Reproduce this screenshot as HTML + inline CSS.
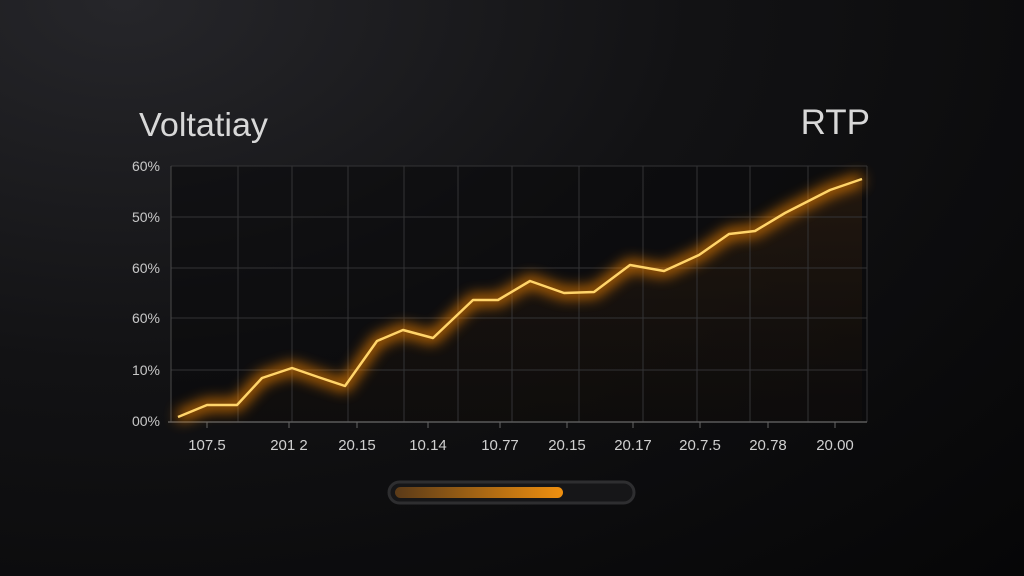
<!DOCTYPE html>
<html><head><style>
html,body{margin:0;padding:0;width:1024px;height:576px;overflow:hidden;background:#0b0b0d}
body{background:radial-gradient(ellipse at 12% 0%,#26262a 0%,#121214 45%,#060607 100%)}
</style></head><body>
<svg width="1024" height="576" viewBox="0 0 1024 576" xmlns="http://www.w3.org/2000/svg" style="position:absolute;left:0;top:0">
<defs>
<filter id="glow" x="-10%" y="-30%" width="120%" height="160%"><feGaussianBlur stdDeviation="7"/></filter>
<linearGradient id="fillg" x1="0" y1="0" x2="0" y2="1"><stop offset="0" stop-color="#3a2410" stop-opacity="0.5"/><stop offset="1" stop-color="#1a120a" stop-opacity="0.2"/></linearGradient>
<linearGradient id="bar" x1="0" x2="1"><stop offset="0" stop-color="#5a3a18"/><stop offset="1" stop-color="#f0900f"/></linearGradient>
</defs>
<rect x="171" y="166" width="696" height="256" fill="#0a0a0b" opacity="0.6"/>
<g font-family="Liberation Sans, sans-serif">
<text x="139" y="136" fill="#d8d8d8" font-size="33" textLength="129" lengthAdjust="spacingAndGlyphs">Voltatiay</text>
<text x="870" y="134" fill="#d8d8d8" font-size="35" text-anchor="end">RTP</text>
</g>
<polygon fill="url(#fillg)" points="178,417 207,405 237,405 262,378 292,368 318,377 345,386 377,341 403,330 433,338 473,300 498,300 530,281 564,293 594,292 630,265 664,271 699,255 729,234 755,231 785,213 830,190 862,179 862,422 178,422"/>
<g stroke="#333335" stroke-width="1">
<line x1="171" y1="166" x2="867" y2="166"/><line x1="171" y1="217" x2="867" y2="217"/><line x1="171" y1="268" x2="867" y2="268"/><line x1="171" y1="318" x2="867" y2="318"/><line x1="171" y1="370" x2="867" y2="370"/>
<line x1="238" y1="166" x2="238" y2="422"/><line x1="292" y1="166" x2="292" y2="422"/><line x1="348" y1="166" x2="348" y2="422"/><line x1="404" y1="166" x2="404" y2="422"/><line x1="458" y1="166" x2="458" y2="422"/><line x1="512" y1="166" x2="512" y2="422"/><line x1="579" y1="166" x2="579" y2="422"/><line x1="643" y1="166" x2="643" y2="422"/><line x1="697" y1="166" x2="697" y2="422"/><line x1="750" y1="166" x2="750" y2="422"/><line x1="808" y1="166" x2="808" y2="422"/><line x1="867" y1="166" x2="867" y2="422"/>
</g>
<line x1="171" y1="166" x2="171" y2="422" stroke="#4a4a4a" stroke-width="1"/>
<line x1="168" y1="422" x2="867" y2="422" stroke="#5a5a5a" stroke-width="1.5"/>
<g stroke="#666"><line x1="207" y1="422" x2="207" y2="428"/><line x1="289" y1="422" x2="289" y2="428"/><line x1="357" y1="422" x2="357" y2="428"/><line x1="428" y1="422" x2="428" y2="428"/><line x1="500" y1="422" x2="500" y2="428"/><line x1="567" y1="422" x2="567" y2="428"/><line x1="633" y1="422" x2="633" y2="428"/><line x1="700" y1="422" x2="700" y2="428"/><line x1="768" y1="422" x2="768" y2="428"/><line x1="835" y1="422" x2="835" y2="428"/></g>
<polyline fill="none" stroke="#ff8a00" stroke-width="10" opacity="0.85" filter="url(#glow)" stroke-linejoin="round" points="178,417 207,405 237,405 262,378 292,368 318,377 345,386 377,341 403,330 433,338 473,300 498,300 530,281 564,293 594,292 630,265 664,271 699,255 729,234 755,231 785,213 830,190 862,179"/>
<polyline fill="none" stroke="#ffd46a" stroke-width="2.5" stroke-linejoin="round" points="178,417 207,405 237,405 262,378 292,368 318,377 345,386 377,341 403,330 433,338 473,300 498,300 530,281 564,293 594,292 630,265 664,271 699,255 729,234 755,231 785,213 830,190 862,179"/>
<g font-family="Liberation Sans, sans-serif" font-size="14" fill="#c8c8c8">
<text x="160" y="171" text-anchor="end">60%</text><text x="160" y="222" text-anchor="end">50%</text><text x="160" y="273" text-anchor="end">60%</text><text x="160" y="323" text-anchor="end">60%</text><text x="160" y="375" text-anchor="end">10%</text><text x="160" y="426" text-anchor="end">00%</text>
</g>
<g font-family="Liberation Sans, sans-serif" font-size="15" fill="#d0d0d0" text-anchor="middle">
<text x="207" y="450">107.5</text><text x="289" y="450">201 2</text><text x="357" y="450">20.15</text><text x="428" y="450">10.14</text><text x="500" y="450">10.77</text><text x="567" y="450">20.15</text><text x="633" y="450">20.17</text><text x="700" y="450">20.7.5</text><text x="768" y="450">20.78</text><text x="835" y="450">20.00</text>
</g>
<rect x="389" y="482" width="245" height="21" rx="10.5" fill="#161618" stroke="#2e2e30" stroke-width="3"/>
<rect x="395" y="487" width="168" height="11" rx="5.5" fill="url(#bar)"/>
</svg>
</body></html>
